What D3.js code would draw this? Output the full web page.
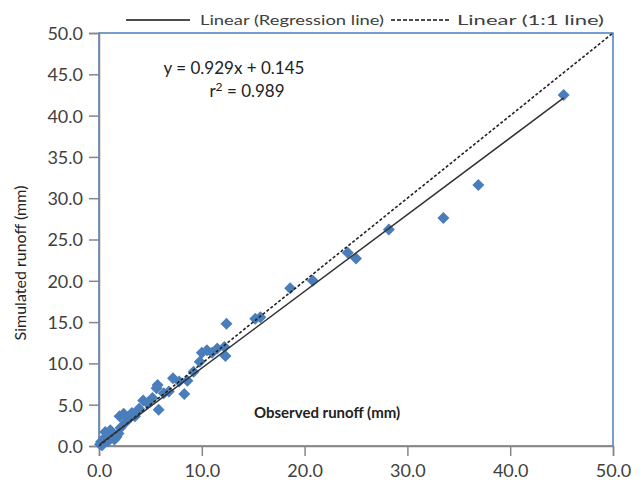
<!DOCTYPE html>
<html>
<head>
<meta charset="utf-8">
<script src="https://cdn.jsdelivr.net/npm/d3@7"></script>
<style>
  html, body { margin: 0; padding: 0; background: #fff; }
  svg { display: block; font-family: Lato, "Open Sans", "Liberation Sans", sans-serif; }
</style>
</head>
<body>
<svg id="chart" width="642" height="482"></svg>
<script>
// Observed vs simulated runoff (mm)
const observed  = [0.1, 0.2, 0.3, 0.5, 0.6, 0.9, 1.1, 1.3, 1.5, 1.7, 1.9, 2.1, 2.0, 2.4, 2.6, 2.9, 3.2, 3.5, 3.9, 4.3,
                   4.7, 5.2, 5.6, 5.7, 5.8, 6.3, 6.8, 7.2, 7.8, 8.3, 8.6, 9.2, 9.8, 10.0, 10.5, 11.0, 11.5, 12.2, 12.3, 12.4,
                   15.2, 15.7, 18.6, 20.8, 24.2, 25.0, 28.2, 33.5, 36.9, 45.2];
const simulated = [0.2, 0.5, 0.1, 0.9, 1.7, 0.6, 1.9, 1.2, 0.8, 1.1, 1.5, 2.2, 3.6, 3.9, 2.9, 3.3, 4.0, 3.6, 4.5, 5.5,
                   5.2, 5.8, 7.0, 7.4, 4.4, 6.4, 6.6, 8.2, 7.8, 6.3, 7.9, 9.0, 10.2, 11.3, 11.6, 11.3, 11.8, 12.0, 10.9, 14.8,
                   15.4, 15.6, 19.1, 20.0, 23.4, 22.7, 26.2, 27.6, 31.6, 42.5];

// Fitted regression: y = slope * x + intercept
const slope = 0.929;
const intercept = 0.145;
const rSquared = 0.989;

const axisTicks = [0, 5, 10, 15, 20, 25, 30, 35, 40, 45, 50];
const xAxisTicks = [0, 10, 20, 30, 40, 50];

const legendLabels = ["Linear (Regression line)", "Linear (1:1 line)"];
const xTitle = "Observed runoff (mm)";
const yTitle = "Simulated runoff (mm)";

const svg = d3.select("#chart");
const plot = { left: 99, right: 613, top: 33, bottom: 446 };

const x = d3.scaleLinear().domain([0, 50]).range([plot.left, plot.right]);
const y = d3.scaleLinear().domain([0, 50]).range([plot.bottom, plot.top]);

const markBlue = "#4a7ebb";
const axisGrey = "#868686";
const textGrey = "#404040";

// plot-area frame
svg.append("rect")
  .attr("x", plot.left).attr("y", plot.top)
  .attr("width", plot.right - plot.left).attr("height", plot.bottom - plot.top)
  .attr("fill", "none").attr("stroke", markBlue).attr("stroke-width", 1.5);

// axes
const yAxis = d3.axisLeft(y).tickValues(axisTicks).tickFormat(d3.format(".1f")).tickSize(10).tickPadding(6);
const xAxis = d3.axisBottom(x).tickValues(xAxisTicks).tickFormat(d3.format(".1f")).tickSize(10).tickPadding(8);

const gy = svg.append("g").attr("transform", `translate(${plot.left},0)`).call(yAxis);
const gx = svg.append("g").attr("transform", `translate(0,${plot.bottom})`).call(xAxis);
[gx, gy].forEach(g => {
  g.select(".domain").attr("stroke", axisGrey).attr("stroke-width", 1.5);
  g.selectAll(".tick line").attr("stroke", axisGrey).attr("stroke-width", 1.5);
  g.selectAll(".tick text").attr("fill", textGrey).style("font-size", "18px")
    .style("font-family", "Lato, 'Open Sans', sans-serif");
});
gy.selectAll(".tick text").attr("dy", "0.36em");

// points
const diamond = "M0,-6L6,0L0,6L-6,0Z";
svg.append("g").selectAll("path")
  .data(observed.map((o, i) => [o, simulated[i]]))
  .join("path")
  .attr("d", diamond)
  .attr("transform", d => `translate(${x(d[0])},${y(d[1])})`)
  .attr("fill", markBlue);

// 1:1 line
svg.append("line")
  .attr("x1", x(0)).attr("y1", y(0)).attr("x2", x(50)).attr("y2", y(50))
  .attr("stroke", "#222").attr("stroke-width", 1.6).attr("stroke-dasharray", "3,2");

// regression line across the observed range
const xMin = d3.min(observed), xMax = d3.max(observed);
svg.append("line")
  .attr("x1", x(xMin)).attr("y1", y(slope * xMin + intercept))
  .attr("x2", x(xMax)).attr("y2", y(slope * xMax + intercept))
  .attr("stroke", "#333").attr("stroke-width", 1.5);

// equation text
svg.append("text").attr("x", 234).attr("y", 74).attr("text-anchor", "middle")
  .attr("fill", "#222").style("font-size", "17px")
  .text(`y = ${slope.toFixed(3)}x + ${intercept.toFixed(3)}`);
const r2 = svg.append("text").attr("x", 247).attr("y", 97).attr("text-anchor", "middle")
  .attr("fill", "#222").style("font-size", "17px");
r2.append("tspan").text("r");
r2.append("tspan").attr("dy", -6).style("font-size", "12px").text("2");
r2.append("tspan").attr("dy", 6).text(` = ${rSquared.toFixed(3)}`);

// axis titles
svg.append("text").attr("x", 254).attr("y", 418)
  .attr("fill", "#222").style("font-size", "15px").style("font-weight", "bold").text(xTitle);
svg.append("text").attr("transform", "translate(26,263) rotate(-90)").attr("text-anchor", "middle")
  .attr("fill", "#222").style("font-size", "16px").text(yTitle);

// legend
const legend = svg.append("g").style("font-size", "13px").attr("fill", "#404040");
legend.append("line").attr("x1", 126).attr("x2", 190).attr("y1", 20).attr("y2", 20)
  .attr("stroke", "#111").attr("stroke-width", 1.6);
legend.append("text").attr("x", 200).attr("y", 24.5)
  .attr("textLength", 184).attr("lengthAdjust", "spacingAndGlyphs").text(legendLabels[0]);
legend.append("line").attr("x1", 391).attr("x2", 450).attr("y1", 20).attr("y2", 20)
  .attr("stroke", "#111").attr("stroke-width", 1.4).attr("stroke-dasharray", "4,2");
legend.append("text").attr("x", 457).attr("y", 24.5)
  .attr("textLength", 147).attr("lengthAdjust", "spacingAndGlyphs").text(legendLabels[1]);
</script>
</body>
</html>
